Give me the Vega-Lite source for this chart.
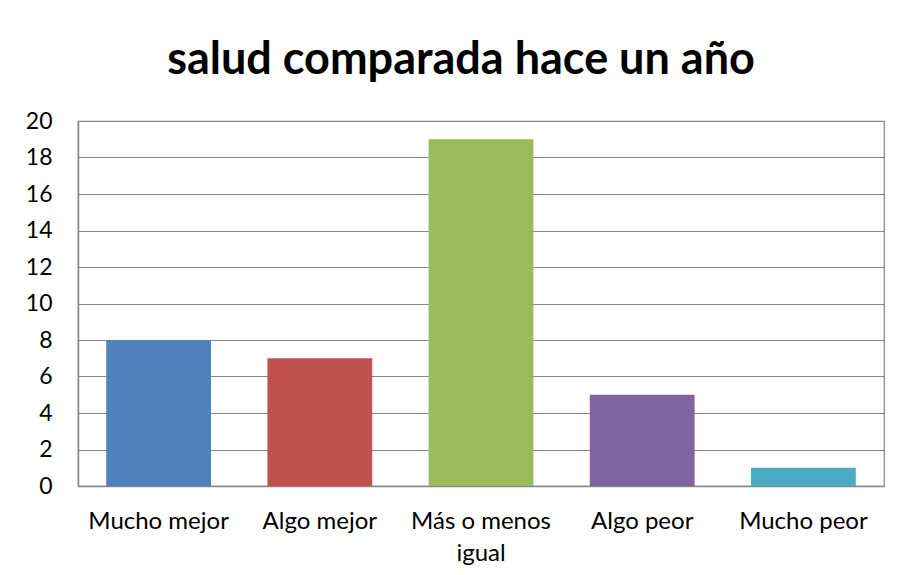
{
  "$schema": "https://vega.github.io/schema/vega-lite/v6.json",
  "width": 806,
  "height": 365,
  "autosize": {"type": "none"},
  "padding": {"left": 78, "top": 121, "right": 15, "bottom": 89},
  "background": "white",
  "title": {
    "text": "salud comparada hace un año",
    "font": "Lato",
    "fontSize": 45,
    "fontWeight": "bold",
    "color": "#000000",
    "anchor": "middle",
    "dx": -20,
    "offset": 27
  },
  "data": {
    "values": [
      {"categoria": "Mucho mejor", "valor": 8},
      {"categoria": "Algo mejor", "valor": 7},
      {"categoria": "Más o menos igual", "valor": 19},
      {"categoria": "Algo peor", "valor": 5},
      {"categoria": "Mucho peor", "valor": 1}
    ]
  },
  "mark": {"type": "bar"},
  "encoding": {
    "x": {
      "field": "categoria",
      "type": "nominal",
      "sort": null,
      "scale": {"paddingInner": 0.35, "paddingOuter": 0.175},
      "axis": {
        "title": null,
        "labelAngle": 0,
        "labelFont": "Lato",
        "labelFontSize": 24,
        "labelColor": "#000000",
        "labelPadding": 42,
        "labelLineHeight": 32,
        "labelBaseline": "alphabetic",
        "labelExpr": "datum.label == 'Más o menos igual' ? ['Más o menos', 'igual'] : datum.label",
        "ticks": false,
        "domainColor": "#868686",
        "domainWidth": 1.5
      }
    },
    "y": {
      "field": "valor",
      "type": "quantitative",
      "scale": {"domain": [0, 20]},
      "axis": {
        "title": null,
        "values": [0, 2, 4, 6, 8, 10, 12, 14, 16, 18, 20],
        "labelFont": "Lato",
        "labelFontSize": 23,
        "labelColor": "#000000",
        "labelPadding": 26,
        "ticks": false,
        "grid": true,
        "gridColor": "#868686",
        "gridWidth": 1.2,
        "domainColor": "#868686",
        "domainWidth": 1.5
      }
    },
    "color": {
      "field": "categoria",
      "type": "nominal",
      "sort": null,
      "scale": {
        "domain": ["Mucho mejor", "Algo mejor", "Más o menos igual", "Algo peor", "Mucho peor"],
        "range": ["#4F81BD", "#C0504D", "#9BBB59", "#8064A2", "#4BACC6"]
      },
      "legend": null
    }
  },
  "config": {
    "view": {"stroke": "#868686", "strokeWidth": 1.2}
  }
}
